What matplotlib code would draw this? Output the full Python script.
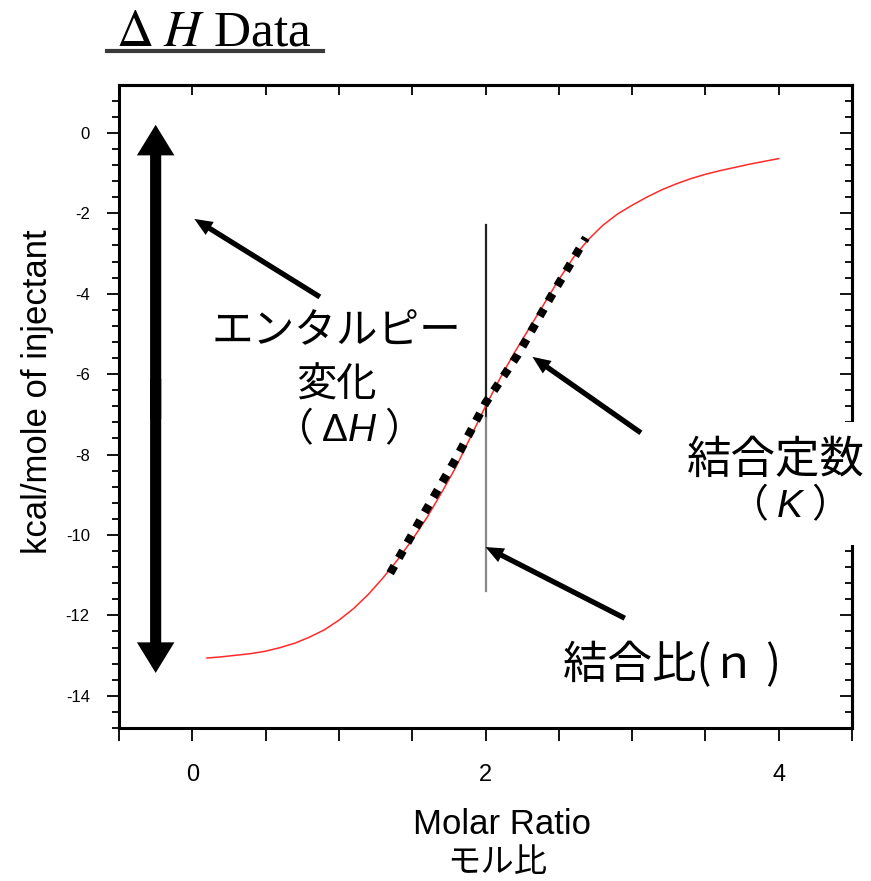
import matplotlib
matplotlib.use("Agg")
import matplotlib.pyplot as plt
from matplotlib.patches import FancyArrowPatch, Rectangle
from matplotlib.lines import Line2D
import numpy as np

plt.rcParams['font.family'] = ['Liberation Sans', 'DejaVu Sans']
plt.rcParams['mathtext.fontset'] = 'custom'
plt.rcParams['mathtext.rm'] = 'Liberation Sans'
plt.rcParams['mathtext.it'] = 'Liberation Sans:italic'
JP = ['Noto Sans CJK JP', 'DejaVu Sans']

# fitted curve (red)
fit_x = [0.1, 0.2, 0.3, 0.4, 0.5, 0.6, 0.7, 0.8, 0.9, 1.0, 1.1, 1.2, 1.3, 1.4, 1.5, 1.6, 1.7, 1.8,
         1.9, 2.0, 2.1, 2.2, 2.3, 2.4, 2.5, 2.6, 2.7, 2.8, 2.9, 3.0, 3.1, 3.2, 3.3, 3.4, 3.5, 3.6,
         3.7, 3.8, 3.9, 4.0]
fit_y = [-13.06, -13.03, -12.99, -12.95, -12.89, -12.80, -12.69, -12.54, -12.36, -12.12, -11.83,
         -11.48, -11.07, -10.62, -10.12, -9.57, -8.95, -8.3, -7.55, -6.8, -6.1, -5.45, -4.85,
         -4.25, -3.65, -3.1, -2.66, -2.3, -2.02, -1.8, -1.6, -1.42, -1.27, -1.14, -1.03, -0.94,
         -0.86, -0.78, -0.71, -0.64]

# slope at the inflection (black dotted)
slope_x = [1.35, 1.575, 1.805, 2.0, 2.22, 2.445, 2.685]
slope_y = [-10.95, -9.50, -8.06, -6.72, -5.52, -4.08, -2.61]

# stoichiometry marker n
n_x = 2.0
n_top, n_mid, n_bottom = -2.3, -7.1, -11.4

# big double arrow for dH
dh_x = -0.25
dh_top, dh_bottom = 0.2, -13.43

# annotation arrows: (tail x, tail y, tip x, tip y)
arrows = [(0.87, -4.08, 0.014, -2.14),
          (3.06, -7.46, 2.32, -5.57),
          (2.95, -12.07, 2.0, -10.30)]

x_ticks = [-0.5, 0, 0.5, 1, 1.5, 2, 2.5, 3, 3.5, 4, 4.5]
x_tick_labels = ['', '0', '', '', '', '2', '', '', '', '4', '']
y_ticks = [0, -2, -4, -6, -8, -10, -12, -14]
y_tick_labels = ['0', '-2', '-4', '-6', '-8', '-10', '-12', '-14']

fig = plt.figure(figsize=(8.71, 8.81), dpi=100)
ax = fig.add_axes([119/871, 1 - 728/881, (852 - 119)/871, (728 - 85)/881])
ax.set_xlim(-0.5, 4.5)
ax.set_ylim(-14.8, 1.19)

ax.plot(fit_x, fit_y, color='#ff2a2a', lw=1.1, zorder=3)
ax.plot(slope_x, slope_y, color='black', lw=6, dashes=(1, 1.1), dash_capstyle='butt', zorder=4)
ax.plot([n_x, n_x], [n_top, n_mid], color='#222222', lw=1.6, zorder=2)
ax.plot([n_x, n_x], [n_mid, n_bottom], color='#888888', lw=1.6, zorder=2)

mid = (dh_top + dh_bottom) / 2
for start, end in ((mid - 0.5, dh_top), (mid + 0.5, dh_bottom)):
    ax.add_patch(FancyArrowPatch((dh_x, start), (dh_x, end),
                                 arrowstyle='simple,head_length=22,head_width=27,tail_width=8',
                                 mutation_scale=1, color='black', lw=0,
                                 shrinkA=0, shrinkB=0, zorder=4))

for tx, ty, hx, hy in arrows:
    ax.add_patch(FancyArrowPatch((tx, ty), (hx, hy),
                                 arrowstyle='simple,head_length=13,head_width=11,tail_width=3.8',
                                 mutation_scale=1, color='black', lw=0,
                                 shrinkA=0, shrinkB=0, zorder=4))

# ticks
ax.set_xticks(x_ticks)
ax.set_xticklabels(x_tick_labels, fontsize=17)
ax.set_yticks(y_ticks)
ax.set_yticklabels(y_tick_labels, fontsize=12)
ax.set_yticks(np.arange(-14.8, 1.2, 0.4), minor=True)
ax.tick_params(axis='x', which='major', direction='out', length=9, width=1.3, pad=17)
ax.tick_params(axis='y', which='major', direction='out', length=9, width=1.3, pad=12)
ax.tick_params(axis='y', which='minor', direction='out', length=5, width=1.3)
for s in ax.spines.values():
    s.set_linewidth(2.2)

sx = ax.secondary_xaxis('top')
sx.set_xticks(x_ticks)
sx.set_xticklabels([])
sx.tick_params(direction='in', length=7, width=1.3)
sy = ax.secondary_yaxis('right')
sy.set_yticks(y_ticks)
sy.set_yticklabels([])
sy.set_yticks(np.arange(-14.8, 1.2, 0.4), minor=True)
sy.tick_params(which='major', direction='in', length=9, width=1.3)
sy.tick_params(which='minor', direction='in', length=5, width=1.3)
sx.spines['top'].set_linewidth(2.2)
sy.spines['right'].set_linewidth(2.2)

# labels
fig.text(37/871, 1 - 392/881, 'kcal/mole of injectant', rotation=90, fontsize=25,
         ha='center', va='center')
fig.text(502/871, 1 - 825/881, 'Molar Ratio', fontsize=25, ha='center', va='center')
fig.text(497/871, 1 - 862/881, 'モル比', fontsize=24, ha='center', va='center', family=JP)

# title
fig.text(116/871, 1 - 45/881, r'$\Delta\;H$ Data', fontsize=37, family='Liberation Serif',
         math_fontfamily='stix', ha='left', va='baseline')
fig.add_artist(Line2D([107/871, 323/871], [1 - 51/881, 1 - 51/881], color='#3a3a3a', lw=3))

# annotation texts
ax.text(0.98, -4.95, 'エンタルピー', fontsize=30, family=JP, ha='center', va='center', zorder=5)
ax.text(0.98, -6.27, '変化', fontsize=29, family=JP, ha='center', va='center', zorder=5)
ax.text(0.98, -7.39, '（ $\\mathrm{\\Delta}H$ ）', fontsize=28, family=JP, ha='center',
        va='center', zorder=5)

# white box cutting the right spine behind the K label
ax.add_patch(Rectangle((0.975, (728 - 545)/643), 0.06, 123/643, transform=ax.transAxes,
                       facecolor='white', edgecolor='none', zorder=10, clip_on=False))
ax.text(3.98, -8.13, '結合定数', fontsize=32, family=JP, ha='center', va='center', zorder=11,
        clip_on=False)
ax.text(3.99, -9.28, '（ $K$ ）', fontsize=28, family=JP, ha='center', va='center', zorder=11,
        clip_on=False)
ax.text(3.27, -13.23, '結合比(ｎ )', fontsize=32, family=JP, ha='center', va='center', zorder=5)

fig.savefig('out.png', dpi=100)
